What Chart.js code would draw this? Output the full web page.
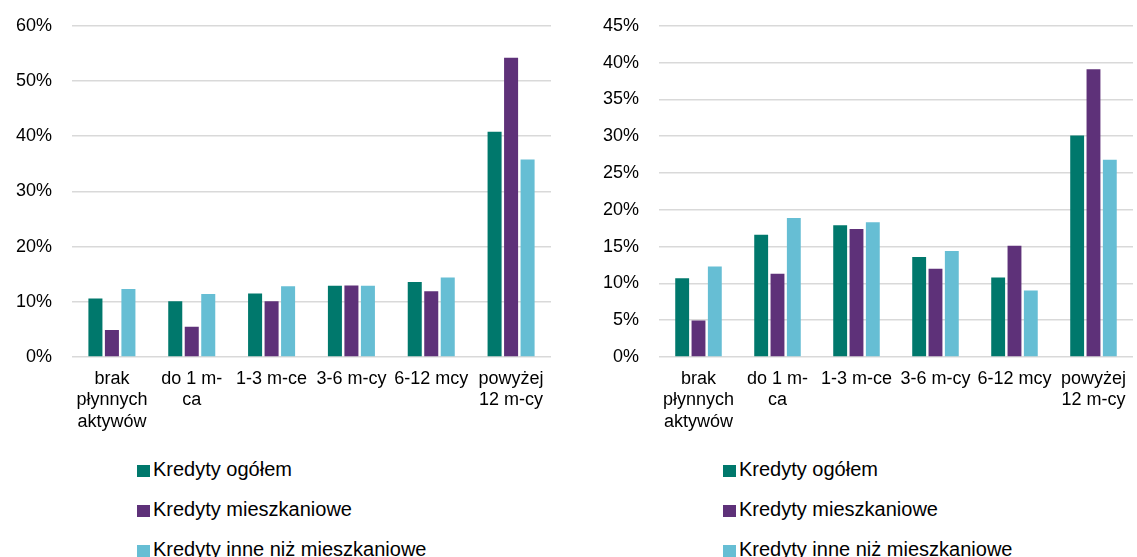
<!DOCTYPE html>
<html lang="pl">
<head>
    <meta charset="UTF-8">
    <title>Kredyty wg płynnych aktywów</title>
    <script src="https://cdn.jsdelivr.net/npm/chart.js"></script>
    <style>
        html, body { margin: 0; padding: 0; background: #fff; overflow: hidden; }
        body { width: 1137px; height: 557px; position: relative; font-family: "Liberation Sans", Arial, sans-serif; }
        .panel { position: absolute; top: -5px; height: 445px; }
        #leftPanel { left: 0; width: 560px; }
        #rightPanel { left: 568px; width: 569px; }
        .legend { position: absolute; top: 456px; margin: 0; padding: 0; list-style: none; }
        .legend li { height: 40px; line-height: 26px; font-size: 20px; color: #000; white-space: nowrap; }
        .legend span.box { display: inline-block; width: 13px; height: 12px; margin-right: 3px; vertical-align: -1px; }
    </style>
</head>
<body>

<div class="panel" id="leftPanel"><canvas id="leftChart"></canvas></div>
<div class="panel" id="rightPanel"><canvas id="rightChart"></canvas></div>
<ul class="legend" id="leftLegend" style="left:137px;"></ul>
<ul class="legend" id="rightLegend" style="left:723px;"></ul>

<script>
const categories = [["brak", "płynnych", "aktywów"], ["do 1 m-", "ca"], "1-3 m-ce", "3-6 m-cy", "6-12 mcy", ["powyżej", "12 m-cy"]];
const seriesNames = ["Kredyty ogółem", "Kredyty mieszkaniowe", "Kredyty inne niż mieszkaniowe"];
const seriesColors = ["#00786C", "#5E3179", "#66BED4"];

// left panel
const leftOgolem = [10.6, 10.1, 11.5, 12.9, 13.6, 40.8];
const leftMieszkaniowe = [4.9, 5.5, 10.1, 12.95, 11.9, 54.2];
const leftInne = [12.3, 11.4, 12.8, 12.9, 14.4, 35.8];
const leftTicks = { max: 60, step: 10 };

// right panel
const rightOgolem = [10.7, 16.6, 17.9, 13.6, 10.8, 30.1];
const rightMieszkaniowe = [4.95, 11.3, 17.4, 12.0, 15.1, 39.1];
const rightInne = [12.3, 18.9, 18.3, 14.4, 9.05, 26.8];
const rightTicks = { max: 45, step: 5 };

const font = { family: "'Liberation Sans', Arial, sans-serif", size: 18 };

function makeChart(id, values, ticks, axisWidth, padRight) {
    return new Chart(document.getElementById(id), {
        type: "bar",
        data: {
            labels: categories,
            datasets: values.map((v, i) => ({
                label: seriesNames[i],
                data: v,
                backgroundColor: seriesColors[i],
                barPercentage: 0.85,
                categoryPercentage: 0.62
            }))
        },
        options: {
            responsive: true,
            maintainAspectRatio: false,
            animation: false,
            layout: { padding: { top: 16, right: padRight, left: 0, bottom: 0 } },
            plugins: { legend: { display: false }, tooltip: { enabled: false } },
            scales: {
                x: {
                    grid: { display: false, drawTicks: false },
                    border: { display: false },
                    ticks: { color: "#000", font: font, padding: 11, maxRotation: 0, autoSkip: false },
                    afterFit: axis => { axis.height = 83; }
                },
                y: {
                    min: 0,
                    max: ticks.max,
                    grid: { color: "#D9D9D9", lineWidth: 1.5, drawTicks: false },
                    border: { display: false },
                    ticks: {
                        stepSize: ticks.step,
                        color: "#000",
                        font: font,
                        padding: 20,
                        callback: v => v + "%"
                    },
                    afterFit: axis => { axis.width = axisWidth; }
                }
            }
        }
    });
}

function makeLegend(id) {
    const ul = document.getElementById(id);
    seriesNames.forEach((name, i) => {
        const li = document.createElement("li");
        const box = document.createElement("span");
        box.className = "box";
        box.style.background = seriesColors[i];
        li.appendChild(box);
        li.appendChild(document.createTextNode(name));
        ul.appendChild(li);
    });
}

makeChart("leftChart", [leftOgolem, leftMieszkaniowe, leftInne], leftTicks, 72, 9);
makeChart("rightChart", [rightOgolem, rightMieszkaniowe, rightInne], rightTicks, 91, 0);
makeLegend("leftLegend");
makeLegend("rightLegend");
</script>

</body>
</html>
